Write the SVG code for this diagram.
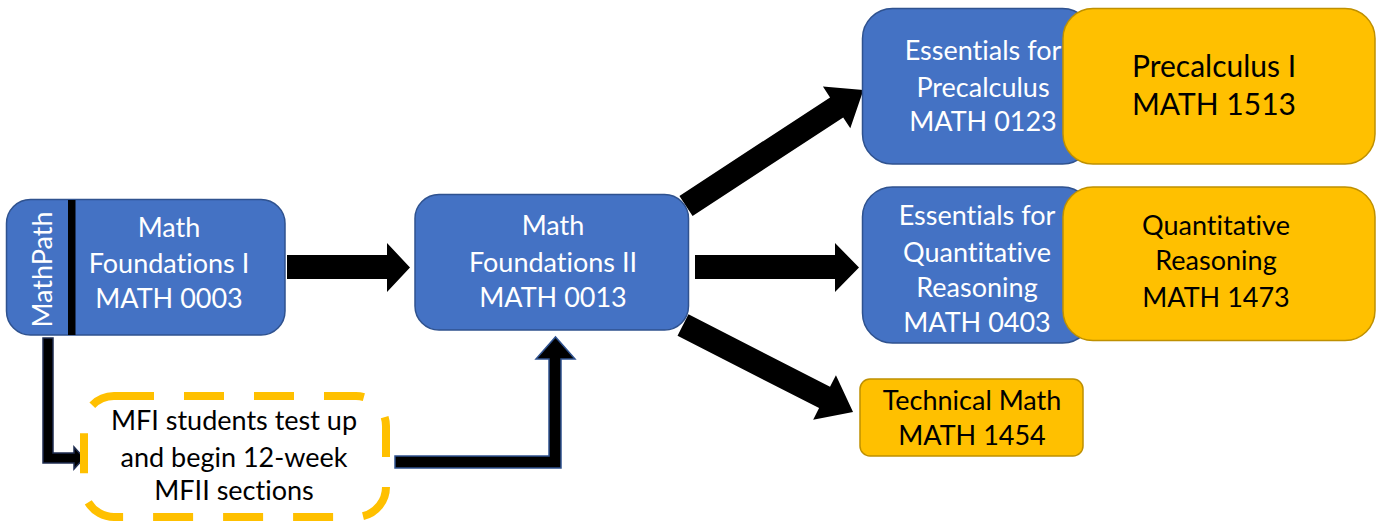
<svg xmlns="http://www.w3.org/2000/svg" width="1380" height="523" viewBox="0 0 1380 523">
  <style>
    .blue { fill: #4472C4; stroke: #2F528F; stroke-width: 1.5; }
    .yellow { fill: #FFC000; stroke: #BF9000; stroke-width: 1.5; }
    .wt { font-family: Lato, "Open Sans", sans-serif; font-size: 27px; fill: #FFFFFF; text-anchor: middle; font-variant-ligatures: none; }
    .bt { font-family: Lato, "Open Sans", sans-serif; font-size: 27px; fill: #000000; text-anchor: middle; font-variant-ligatures: none; }
    .big { font-size: 30px; }
    .arrow { fill: #000000; }
  </style>
  <rect width="1380" height="523" fill="#FFFFFF"/>

  <g id="connectors">
    <polygon class="arrow" points="287,255 387,255 387,243 410,267.5 387,292 387,279 287,279"/>
    <polygon class="arrow" points="695,255 835,255 835,243 859,267.5 835,292 835,279 695,279"/>
    <g transform="translate(686,206) rotate(-33.2)">
      <polygon class="arrow" points="0,-12 180,-12 180,-25 212,0 180,25 180,12 0,12"/>
    </g>
    <g transform="translate(683,325) rotate(27.1)">
      <polygon class="arrow" points="0,-12 159,-12 159,-25 191,0 159,25 159,12 0,12"/>
    </g>
    <polygon points="43,338 53,338 53,453 74,453 74,447 84,458 74,469 74,463 43,463" fill="#000000" stroke="#1F2D50" stroke-width="1.5"/>
    <polygon points="395,456 549,456 549,359 536,359 555.5,337 575,359 561,359 561,468 395,468" fill="#000000" stroke="#2F528F" stroke-width="1.5"/>
  </g>

  <g id="node-mfi">
    <rect class="blue" x="6.5" y="199.5" width="278.5" height="135.5" rx="24"/>
    <rect x="68" y="200" width="7.5" height="135" fill="#000000"/>
    <text class="wt" transform="translate(52,269.5) rotate(-90)">MathPath</text>
    <text class="wt" x="169" y="237">Math</text>
    <text class="wt" x="169" y="273">Foundations I</text>
    <text class="wt" x="169" y="308">MATH 0003</text>
  </g>

  <g id="node-mfii">
    <rect class="blue" x="415" y="194.5" width="273.5" height="135.5" rx="24"/>
    <text class="wt" x="553" y="235">Math</text>
    <text class="wt" x="553" y="272">Foundations II</text>
    <text class="wt" x="553" y="307">MATH 0013</text>
  </g>

  <g id="node-test-up">
    <rect x="84" y="396" width="302" height="121" rx="30" fill="#FFFFFF" stroke="#FFC000" stroke-width="8" stroke-dasharray="40 30"/>
    <text class="bt" x="234" y="430">MFI students test up</text>
    <text class="bt" x="234" y="467">and begin 12-week</text>
    <text class="bt" x="234" y="500">MFII sections</text>
  </g>

  <g id="node-ess-precalc">
    <rect class="blue" x="862.5" y="8.5" width="230" height="155.5" rx="30"/>
    <text class="wt" x="983" y="60">Essentials for</text>
    <text class="wt" x="983" y="97">Precalculus</text>
    <text class="wt" x="983" y="131">MATH 0123</text>
  </g>

  <g id="node-precalc">
    <rect class="yellow" x="1063" y="8.5" width="312" height="155.5" rx="30"/>
    <text class="bt big" x="1214" y="77">Precalculus I</text>
    <text class="bt big" x="1214" y="115">MATH 1513</text>
  </g>

  <g id="node-ess-qr">
    <rect class="blue" x="862.5" y="187" width="230" height="156" rx="30"/>
    <text class="wt" x="977" y="225">Essentials for</text>
    <text class="wt" x="977" y="262">Quantitative</text>
    <text class="wt" x="977" y="297">Reasoning</text>
    <text class="wt" x="977" y="332">MATH 0403</text>
  </g>

  <g id="node-qr">
    <rect class="yellow" x="1063" y="187" width="312" height="153.5" rx="30"/>
    <text class="bt" x="1216" y="235">Quantitative</text>
    <text class="bt" x="1216" y="270">Reasoning</text>
    <text class="bt" x="1216" y="307">MATH 1473</text>
  </g>

  <g id="node-tech">
    <rect class="yellow" x="860" y="379" width="223" height="77" rx="10"/>
    <text class="bt" x="972" y="410">Technical Math</text>
    <text class="bt" x="972" y="445">MATH 1454</text>
  </g>
</svg>
